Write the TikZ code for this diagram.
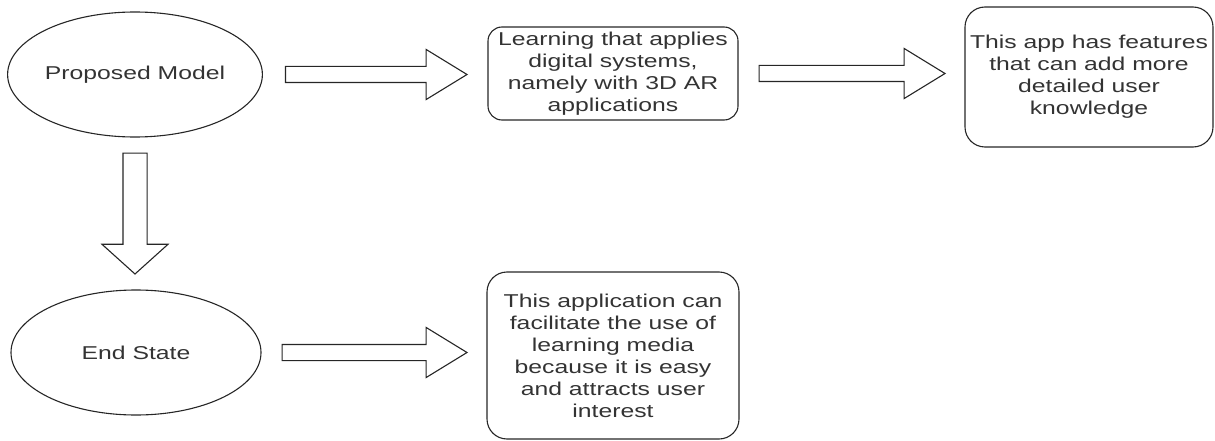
\documentclass[tikz,border=0pt]{standalone}
\usepackage{fontspec}
\newfontfamily\diagfont[FakeStretch=1.33]{Liberation Sans}
\usetikzlibrary{shapes.geometric,shapes.arrows,calc}

\begin{document}
\begin{tikzpicture}[x=1pt,y=-1pt,
  line width=1.1pt,
  every node/.style={font=\diagfont\fontsize{18.6}{22}\selectfont, text=black!80},
  state/.style={ellipse, draw=black!85, minimum width=250pt, minimum height=125pt, inner sep=0pt},
  infobox/.style={rectangle, rounded corners=14pt, draw=black!85, align=center, inner sep=0pt},
  arrowbody/.style={single arrow, draw=black!85, fill=white, inner xsep=0pt, minimum width=0pt},
  harrow/.style={arrowbody, inner ysep=7.5pt, single arrow head extend=17pt, single arrow tip angle=63},
  varrow/.style={arrowbody, inner ysep=11.5pt, single arrow head extend=21pt, single arrow tip angle=96},
  blockarrow/.style={to path={let \p1=(\tikztostart), \p2=(\tikztotarget),
      \n1={atan2(\y2-\y1,\x2-\x1)}, \n2={veclen(\x2-\x1,\y2-\y1)} in
      node[#1, minimum height=\n2, rotate=\n1, anchor=tail] at (\p1) {}}}
]
\useasboundingbox (0,0) rectangle (1215,441);

% states
\node[state] (pm) at (135,74.5) {Proposed Model};
\node[state] (es) at (136,352.5) {End State};

% descriptions
\node[infobox, minimum width=250pt, minimum height=93pt] (dl) at (613,73.5)
  {Learning that applies\\digital systems,\\namely with 3D AR\\applications};
\node[infobox, rounded corners=20pt, minimum width=248pt, minimum height=140pt] (ft) at (1089,77)
  {This app has features\\that can add more\\detailed user\\knowledge};
\node[infobox, rounded corners=20pt, minimum width=252pt, minimum height=167pt] (fa) at (613,355.5)
  {This application can\\facilitate the use of\\learning media\\because it is easy\\and attracts user\\interest};

% arrow end points
\coordinate (a1s) at ($(pm.east)+(22,0)$);
\coordinate (a1e) at ($(a1s -| dl.west)+(-21,0)$);
\coordinate (a2s) at ($(dl.east)+(20,0)$);
\coordinate (a2e) at ($(a2s -| ft.west)+(-20,0)$);
\coordinate (a3s) at ($(es.east)+(20,0)$);
\coordinate (a3e) at ($(a3s -| fa.west)+(-20,0)$);
\coordinate (a4s) at ($(pm.south)+(0,15)$);
\coordinate (a4e) at ($(a4s |- es.north)+(0,-16)$);

% block arrows
\path (a1s) to[blockarrow=harrow] (a1e);
\path (a2s) to[blockarrow=harrow] (a2e);
\path (a3s) to[blockarrow=harrow] (a3e);
\path (a4s) to[blockarrow=varrow] (a4e);
\end{tikzpicture}
\end{document}
